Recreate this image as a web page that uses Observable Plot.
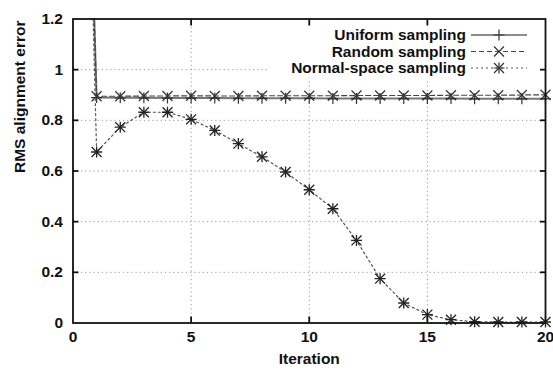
<!DOCTYPE html>
<html>
<head>
<meta charset="utf-8">
<script src="https://cdn.jsdelivr.net/npm/d3@7"></script>
<script src="https://cdn.jsdelivr.net/npm/@observablehq/plot@0.6"></script>
<style>
  html, body { margin: 0; padding: 0; background: #fff; }
  #chart svg { display: block; }
</style>
</head>
<body>
<div id="chart"></div>
<script>
// Data
const iterations = [0,1,2,3,4,5,6,7,8,9,10,11,12,13,14,15,16,17,18,19,20];
const uniform = [4.0,0.89,0.889,0.889,0.888,0.888,0.888,0.887,0.887,0.887,0.887,0.886,0.886,0.886,0.886,0.886,0.886,0.885,0.885,0.885,0.885];
const random  = [4.0,0.895,0.895,0.896,0.896,0.897,0.896,0.896,0.897,0.897,0.897,0.897,0.898,0.898,0.898,0.898,0.899,0.899,0.899,0.900,0.901];
const normalSpace = [4.2,0.675,0.773,0.832,0.832,0.804,0.760,0.708,0.656,0.596,0.526,0.451,0.326,0.175,0.079,0.033,0.013,0.005,0.004,0.004,0.004];
const seriesNames = ["Uniform sampling","Random sampling","Normal-space sampling"];
const xTicks = [0,5,10,15,20];
const yTicks = [0,0.2,0.4,0.6,0.8,1,1.2];

const rows = (vals) => iterations.map((x,i) => ({x, y: vals[i]}));
const U = rows(uniform), R = rows(random), N = rows(normalSpace);
const Udots = U.filter(d => d.x > 0), Rdots = R.filter(d => d.x > 0), Ndots = N.filter(d => d.x > 0);

const FONT = "Liberation Sans, Arial, sans-serif";
const FS = 15.5;
const PLUS_R = 3.65, TIMES_R = 4.6;

const plot = Plot.plot({
  width: 553,
  height: 372,
  marginLeft: 72.5,
  marginRight: 8,
  marginTop: 18.5,
  marginBottom: 49.5,
  style: {fontFamily: FONT, fontSize: FS + "px", fontWeight: "bold", background: "#fff", color: "#111"},
  x: {domain: [0, 20]},
  y: {domain: [0, 1.2]},
  marks: [
    Plot.gridX([5,10,15], {stroke: "#999", strokeOpacity: 1, strokeDasharray: "1.2,3", strokeWidth: 1}),
    Plot.gridY([0.2,0.4,0.6,0.8,1.0], {stroke: "#999", strokeOpacity: 1, strokeDasharray: "1.2,3", strokeWidth: 1}),
    // lines
    Plot.line(U, {x: "x", y: "y", stroke: "#777", strokeWidth: 2, clip: true}),
    Plot.line(R, {x: "x", y: "y", stroke: "#444", strokeWidth: 1.2, strokeDasharray: "5,3", clip: true}),
    Plot.line(N, {x: "x", y: "y", stroke: "#555", strokeWidth: 1.2, strokeDasharray: "2,3", clip: true}),
    // markers
    Plot.dot(Udots, {x: "x", y: "y", symbol: "plus", r: PLUS_R, stroke: "#333", strokeWidth: 1.2}),
    Plot.dot(Rdots, {x: "x", y: "y", symbol: "times", r: TIMES_R, stroke: "#333", strokeWidth: 1.2}),
    Plot.dot(Ndots, {x: "x", y: "y", symbol: "plus", r: PLUS_R, stroke: "#222", strokeWidth: 1.3}),
    Plot.dot(Ndots, {x: "x", y: "y", symbol: "times", r: TIMES_R, stroke: "#222", strokeWidth: 1.3}),
    // frame
    Plot.frame({stroke: "#111", strokeWidth: 1.8}),
    // tick labels
    Plot.axisX(xTicks, {tickSize: 0, tickPadding: 8, label: null, fontSize: FS, fontWeight: "bold"}),
    Plot.axisY(yTicks, {tickSize: 0, tickPadding: 10, label: null, fontSize: FS, fontWeight: "bold",
      tickFormat: d => d3.format("~g")(d)}),
    // inward ticks
    Plot.axisX([5,10,15], {anchor: "bottom", tickSize: -6, tickFormat: () => "", label: null, strokeWidth: 1.8}),
    Plot.axisX([5,10,15], {anchor: "top", tickSize: -6, tickFormat: () => "", label: null, strokeWidth: 1.8}),
    Plot.axisY([0.2,0.4,0.6,0.8,1.0], {anchor: "left", tickSize: -6, tickFormat: () => "", label: null, strokeWidth: 1.8}),
    Plot.axisY([0.2,0.4,0.6,0.8,1.0], {anchor: "right", tickSize: -6, tickFormat: () => "", label: null, strokeWidth: 1.8}),
    // axis titles
    Plot.text(["Iteration"], {frameAnchor: "bottom", dy: 41, fontSize: FS, fontWeight: "bold", fill: "#111"}),
    Plot.text(["RMS alignment error"], {frameAnchor: "left", dx: -53, dy: 2, rotate: -90, fontSize: FS, fontWeight: "bold", fill: "#111"})
  ]
});

document.getElementById("chart").appendChild(plot);

// Legend (inserted above the grid, below the data and axes)
const yGrid = plot.querySelector('g[aria-label="y-grid"]');
const legend = d3.create("svg:g").attr("font-family", FONT).attr("font-size", FS).attr("font-weight", "bold");
legend.append("rect").attr("x", 269).attr("y", 19.5).attr("width", 275).attr("height", 59).attr("fill", "#fff");
const styles = [
  {stroke: "#666", w: 1.4, dash: null, sym: ["plus"]},
  {stroke: "#444", w: 1.2, dash: "5,3", sym: ["times"]},
  {stroke: "#555", w: 1.2, dash: "2,3", sym: ["plus","times"]}
];
const symGen = {
  plus: d3.symbol(d3.symbolPlus, Math.PI * PLUS_R * PLUS_R),
  times: d3.symbol(d3.symbolTimes, Math.PI * TIMES_R * TIMES_R)
};
seriesNames.forEach((name, i) => {
  const cy = 35 + i * 16.5;
  legend.append("text").attr("x", 466).attr("y", cy).attr("dy", "0.35em").attr("text-anchor", "end").attr("fill", "#111").text(name);
  const ln = legend.append("line").attr("x1", 471).attr("x2", 527).attr("y1", cy).attr("y2", cy)
    .attr("stroke", styles[i].stroke).attr("stroke-width", styles[i].w);
  if (styles[i].dash) ln.attr("stroke-dasharray", styles[i].dash);
  styles[i].sym.forEach(s => {
    legend.append("path").attr("transform", `translate(499,${cy})`).attr("d", symGen[s]())
      .attr("fill", "none").attr("stroke", "#333").attr("stroke-width", 1.2);
  });
});
yGrid.parentNode.insertBefore(legend.node(), yGrid.nextSibling);
</script>
</body>
</html>
